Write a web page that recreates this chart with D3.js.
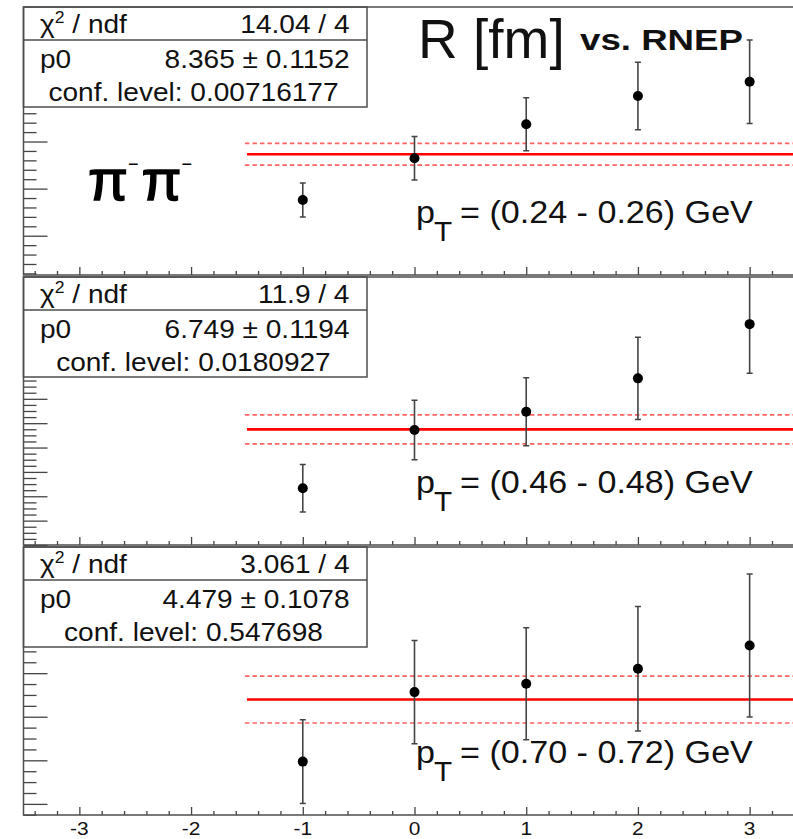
<!DOCTYPE html>
<html>
<head>
<meta charset="utf-8">
<script src="https://cdn.jsdelivr.net/npm/d3@7/dist/d3.min.js"></script>
<style>
  body { margin: 0; background: #fff; }
  text { font-family: "Liberation Sans", Arial, Helvetica, sans-serif; }
</style>
</head>
<body>
<svg id="chart" width="793" height="839"></svg>
<script>
// RNEP bins on the horizontal axis
const rnep = [-1, 0, 1, 2, 3];
const xTickValues = [-3, -2, -1, 0, 1, 2, 3];
const xTickLabels = ["-3", "-2", "-1", "0", "1", "2", "3"];

// R [fm] and uncertainty for each pT slice
const radiusPt024 = [7.879, 8.322, 8.683, 8.983, 9.135];
const errorPt024  = [0.180, 0.230, 0.281, 0.359, 0.443];
const radiusPt046 = [6.266, 6.744, 6.894, 7.168, 7.613];
const errorPt046  = [0.195, 0.245, 0.279, 0.338, 0.404];
const radiusPt070 = [4.194, 4.513, 4.551, 4.620, 4.727];
const errorPt070  = [0.192, 0.237, 0.257, 0.286, 0.328];

// constant (pol0) fit per slice
const fitP0     = [8.365, 6.749, 4.479];
const fitP0Err  = [0.1152, 0.1194, 0.1078];
const fitRange  = [-1.5, 3.5];
const chi2Text  = ["14.04 / 4", "11.9 / 4", "3.061 / 4"];
const p0Text    = ["8.365 \u00b1 0.1152", "6.749 \u00b1 0.1194", "4.479 \u00b1 0.1078"];
const confText  = ["conf. level: 0.00716177", "conf. level: 0.0180927", "conf. level: 0.547698"];
const ptText    = ["= (0.24 - 0.26) GeV", "= (0.46 - 0.48) GeV", "= (0.70 - 0.72) GeV"];

// vertical axis ranges and tick steps per pad
const yDomains   = [[7.083, 9.928], [5.8, 8.0], [3.949, 5.179]];
const yMajorStep = [0.5, 0.2, 0.2];
const yMinorStep = [0.1, 0.05, 0.05];

const series = [
  { r: radiusPt024, e: errorPt024 },
  { r: radiusPt046, e: errorPt046 },
  { r: radiusPt070, e: errorPt070 }
];

const svg = d3.select("#chart");
const panelTop = [7, 277, 547];
const panelH = 268;
const left = 23.5, right = 805.5;
const frameColor = "#4d4d4d";
const tickColor = "#444";
const stretch = 1.1;

const x = d3.scaleLinear().domain([-3.5, 3.5]).range([left, right]);

// stretch a text horizontally and place it by anchor
function fitText(sel, anchor, xPos, factor) {
  const w = sel.node().getComputedTextLength() * factor;
  sel.attr("textLength", w).attr("lengthAdjust", "spacingAndGlyphs")
     .attr("text-anchor", "start")
     .attr("x", anchor === "end" ? xPos - w : anchor === "middle" ? xPos - w / 2 : xPos);
  return sel;
}

function stepValues(lo, hi, step) {
  return d3.range(Math.ceil(lo / step - 1e-6), Math.floor(hi / step + 1e-6) + 1).map(k => +(k * step).toFixed(4));
}

const xMinor = d3.range(-17, 18).map(k => +(k * 0.2).toFixed(2)).filter(v => !Number.isInteger(v));

series.forEach((s, i) => {
  const top = panelTop[i];
  const bottom = top + panelH;
  const y = d3.scaleLinear().domain(yDomains[i]).range([bottom, top]);
  const g = svg.append("g");

  const clipId = "pad" + i;
  svg.append("clipPath").attr("id", clipId)
    .append("rect").attr("x", left).attr("y", top).attr("width", right - left).attr("height", panelH);

  // y ticks (no labels)
  const [lo, hi] = yDomains[i];
  const yMajor = stepValues(lo, hi, yMajorStep[i]);
  const yMinor = stepValues(lo, hi, yMinorStep[i]).filter(v => !yMajor.some(m => Math.abs(m - v) < 1e-6));
  const styleAxis = a => {
    a.select(".domain").remove();
    a.selectAll(".tick line").attr("stroke", tickColor).attr("stroke-width", 1.3);
  };
  g.append("g").attr("transform", `translate(${left},0)`)
    .call(d3.axisLeft(y).tickValues(yMinor).tickSize(-13).tickFormat("")).call(styleAxis);
  g.append("g").attr("transform", `translate(${left},0)`)
    .call(d3.axisLeft(y).tickValues(yMajor).tickSize(-24).tickFormat("")).call(styleAxis);

  // x ticks
  g.append("g").attr("transform", `translate(0,${bottom})`)
    .call(d3.axisBottom(x).tickValues(xMinor).tickSize(-4).tickFormat("")).call(styleAxis);
  g.append("g").attr("transform", `translate(0,${bottom})`)
    .call(d3.axisBottom(x).tickValues(xTickValues).tickSize(-8).tickFormat("")).call(styleAxis);

  const plot = g.append("g").attr("clip-path", `url(#${clipId})`);

  // fit line with its ±1σ band
  const p0 = fitP0[i], dp = fitP0Err[i];
  [p0 - dp, p0 + dp].forEach(v => {
    plot.append("line")
      .attr("x1", x(fitRange[0]) - 2).attr("x2", x(fitRange[1]))
      .attr("y1", y(v)).attr("y2", y(v))
      .attr("stroke", "#ff6464").attr("stroke-width", 1.7).attr("stroke-dasharray", "4.5,3");
  });
  plot.append("line")
    .attr("x1", x(fitRange[0])).attr("x2", x(fitRange[1]))
    .attr("y1", y(p0)).attr("y2", y(p0))
    .attr("stroke", "#ff0000").attr("stroke-width", 2.6);

  // error bars
  const pts = rnep.map((xv, k) => ({ x: xv, v: s.r[k], e: s.e[k] }));
  const eb = plot.selectAll(".eb").data(pts).enter().append("g");
  eb.append("line")
    .attr("x1", d => x(d.x)).attr("x2", d => x(d.x))
    .attr("y1", d => y(d.v - d.e)).attr("y2", d => y(d.v + d.e))
    .attr("stroke", "#444").attr("stroke-width", 1.6);
  [-1, 1].forEach(sgn => {
    eb.append("line")
      .attr("x1", d => x(d.x) - 3).attr("x2", d => x(d.x) + 3)
      .attr("y1", d => y(d.v + sgn * d.e)).attr("y2", d => y(d.v + sgn * d.e))
      .attr("stroke", "#444").attr("stroke-width", 1.5);
  });
  plot.selectAll(".pt").data(pts).enter().append("circle")
    .attr("cx", d => x(d.x)).attr("cy", d => y(d.v)).attr("r", 5).attr("fill", "#000");

  // statistics box
  const boxW = 343.5, boxH = 100;
  g.append("rect").attr("x", left).attr("y", top).attr("width", boxW).attr("height", boxH)
    .attr("fill", "#fff").attr("stroke", frameColor).attr("stroke-width", 1.5);
  g.append("line").attr("x1", left).attr("x2", left + boxW)
    .attr("y1", top + 33).attr("y2", top + 33).attr("stroke", frameColor).attr("stroke-width", 1.5);

  const fs = 25.5;
  const chiLabel = g.append("text").attr("y", top + 26).attr("font-size", fs).attr("fill", "#111");
  chiLabel.append("tspan").text("\u03c7");
  chiLabel.append("tspan").attr("font-size", 16).attr("dy", -10).text("2");
  chiLabel.append("tspan").attr("dy", 10).text(" / ndf");
  fitText(chiLabel, "start", 40, stretch);

  fitText(g.append("text").attr("y", top + 26).attr("font-size", fs).attr("fill", "#111").text(chi2Text[i]), "end", 349.5, stretch);
  fitText(g.append("text").attr("y", top + 61).attr("font-size", fs).attr("fill", "#111").text("p0"), "start", 40, stretch);
  fitText(g.append("text").attr("y", top + 61).attr("font-size", fs).attr("fill", "#111").text(p0Text[i]), "end", 349.5, stretch);
  fitText(g.append("text").attr("y", top + 93.5).attr("font-size", fs).attr("fill", "#111").text(confText[i]), "middle", 193.5, stretch);

  // pT slice label
  fitText(g.append("text").attr("y", top + 216).attr("font-size", 31).attr("fill", "#111").text("p"), "start", 416, stretch);
  fitText(g.append("text").attr("y", top + 234).attr("font-size", 27).attr("fill", "#111").text("T"), "start", 434, stretch);
  fitText(g.append("text").attr("y", top + 216).attr("font-size", 31).attr("fill", "#111").text(ptText[i]), "start", 460, stretch);

  // pad frame
  g.append("rect").attr("x", left).attr("y", top).attr("width", right - left).attr("height", panelH)
    .attr("fill", "none").attr("stroke", frameColor).attr("stroke-width", 1.5);
});

// horizontal axis labels on the bottom pad
const labels = svg.append("g");
xTickValues.forEach((v, k) => {
  fitText(labels.append("text").attr("y", 835).attr("font-size", 19).attr("fill", "#111").text(xTickLabels[k]),
    "middle", x(v), stretch);
});

// title
svg.append("text").attr("x", 418).attr("y", 58).attr("font-size", 55).attr("fill", "#111").text("R [fm]");
svg.append("text").attr("x", 580).attr("y", 50)
  .attr("font-family", "'DejaVu Sans', sans-serif").attr("font-weight", "bold")
  .attr("font-size", 30).attr("fill", "#111")
  .attr("textLength", 163).attr("lengthAdjust", "spacingAndGlyphs").text("vs. RNEP");

// pair label: pi- pi-
const pair = svg.append("text").attr("x", 88).attr("y", 200)
  .attr("font-family", "'Liberation Serif', 'Times New Roman', serif")
  .attr("font-size", 58).attr("fill", "#000").attr("stroke", "#000").attr("stroke-width", 1.4);
pair.append("tspan").text("\u03c0");
pair.append("tspan").attr("font-size", 18).attr("stroke-width", 0).attr("dy", -30).attr("dx", 0).text("\u2212");
pair.append("tspan").attr("dy", 30).attr("dx", 3).text("\u03c0");
pair.append("tspan").attr("font-size", 18).attr("stroke-width", 0).attr("dy", -30).attr("dx", 0).text("\u2212");
</script>
</body>
</html>
